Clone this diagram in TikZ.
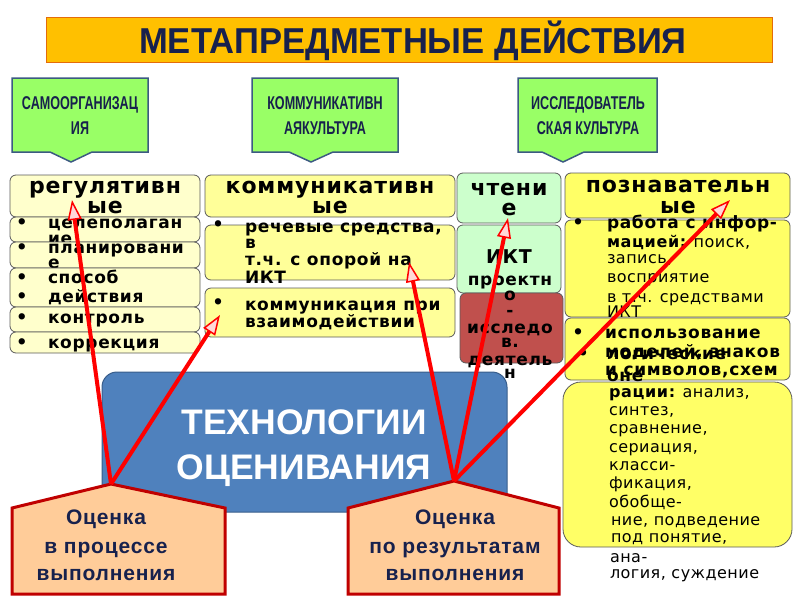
\documentclass[tikz,border=0pt]{standalone}
\usepackage{fontspec}
\setmainfont{DejaVu Sans}
\newfontfamily\hdrfamily{DejaVu Sans}[LetterSpace=4]
\newfontfamily\itemfamily{DejaVu Sans}[LetterSpace=4]
\newfontfamily\plainfamily{DejaVu Sans}[LetterSpace=3]
\newfontfamily\narrowfamily{Liberation Sans}[FakeStretch=0.68]
\newfontfamily\titlefamily{Liberation Sans}[FakeStretch=0.96]
\newfontfamily\arialfamily{Liberation Sans}
\newfontfamily\evalfamily{Liberation Sans}[LetterSpace=4]
\usetikzlibrary{arrows.meta}
\definecolor{titlefill}{HTML}{FFC000}
\definecolor{titleline}{HTML}{E46C0A}
\definecolor{navy}{HTML}{17214D}
\definecolor{greenfill}{HTML}{99FF66}
\definecolor{greenline}{HTML}{3C5A82}
\definecolor{leftfill}{HTML}{FFFFCC}
\definecolor{midfill}{HTML}{FFFF99}
\definecolor{readfill}{HTML}{CCFFCC}
\definecolor{cogfill}{HTML}{FFFF66}
\definecolor{boxline}{HTML}{5A5A5A}
\definecolor{projfill}{HTML}{C0504D}
\definecolor{bluefill}{HTML}{4F81BD}
\definecolor{blueline}{HTML}{385D8A}
\definecolor{penfill}{HTML}{FFCC99}
\definecolor{penline}{HTML}{C00000}

\begin{document}
\begin{tikzpicture}[x=1pt, y=-1pt, every node/.style={inner sep=0pt, outer sep=0pt},
      cell/.style={draw=boxline, line width=0.8pt, rounded corners=6pt, anchor=north west},
      hdrtxt/.style={anchor=base, font=\hdrfamily\fontsize{22}{24}\selectfont\bfseries},
      itemtxt/.style={anchor=base west, font=\itemfamily\fontsize{17}{18}\selectfont\bfseries},
      dot/.style={anchor=base, font=\fontsize{18}{18}\selectfont\bfseries},
      plaintxt/.style={anchor=base west, font=\plainfamily\fontsize{16}{18}\selectfont},
      greentxt/.style={anchor=base, text=navy, font=\narrowfamily\fontsize{18.5}{20}\selectfont\bfseries},
      evaltxt/.style={anchor=base, text=navy, font=\evalfamily\fontsize{21}{22}\selectfont\bfseries},
      callout/.style={fill=greenfill, draw=greenline, line width=1.5pt},
      house/.style={fill=penfill, draw=penline, line width=3pt},
      arr/.style={draw=red, line width=4pt, -{Triangle[length=20pt,width=14pt,fill=red!15,line width=1.5pt]}}]
      \useasboundingbox (0,0) rectangle (800,600);
      \node[fill=titlefill, draw=titleline, line width=1pt, anchor=north west, minimum width=726pt, minimum height=45pt] (title) at (46,17) {};
      \node[anchor=base, text=navy, font=\titlefamily\fontsize{36}{38}\selectfont\bfseries] (titleTxt) at (413,53) {МЕТАПРЕДМЕТНЫЕ ДЕЙСТВИЯ};
      \draw[callout] (12,78) -- (148,78) -- (148,152) -- (92,152) -- (71,162) -- (50,152) -- (12,152) -- cycle;
      \draw[callout] (252,78) -- (398,78) -- (398,152) -- (333,152) -- (311,162) -- (289,152) -- (252,152) -- cycle;
      \draw[callout] (518,78) -- (657,78) -- (657,152) -- (584,152) -- (563,162) -- (542,152) -- (518,152) -- cycle;
      \node[greentxt] (selfA) at (80,109) {САМООРГАНИЗАЦ};
      \node[greentxt] (selfB) at (80,134) {ИЯ};
      \node[greentxt] (talkA) at (325,109) {КОММУНИКАТИВН};
      \node[greentxt] (talkB) at (325,134) {АЯКУЛЬТУРА};
      \node[greentxt] (researchA) at (588,109) {ИССЛЕДОВАТЕЛЬ};
      \node[greentxt] (researchB) at (588,134) {СКАЯ КУЛЬТУРА};
      \node[cell, fill=leftfill, minimum width=190pt, minimum height=42pt] (regHdr) at (10,175) {};
      \node[hdrtxt] (regA) at (105,193) {регулятивн};
      \node[hdrtxt] (regB) at (105,213) {ые};
      \node[cell, fill=leftfill, minimum width=190pt, minimum height=25pt] (regOne) at (10,217) {};
      \node[dot] (regOneDot) at (22,228) {•};
      \node[itemtxt] (regOneA) at (48,228) {целеполаган};
      \node[itemtxt] (regOneB) at (48,244) {ие};
      \node[cell, fill=leftfill, minimum width=190pt, minimum height=26pt] (regTwo) at (10,242) {};
      \node[dot] (regTwoDot) at (22,253) {•};
      \node[itemtxt] (regTwoA) at (48,253) {планировани};
      \node[itemtxt] (regTwoB) at (48,268) {е};
      \node[cell, fill=leftfill, minimum width=190pt, minimum height=39pt] (regThree) at (10,268) {};
      \node[dot] (regThreeDotA) at (22,283) {•};
      \node[itemtxt] (regThreeA) at (48,283) {способ};
      \node[dot] (regThreeDotB) at (22,302) {•};
      \node[itemtxt] (regThreeB) at (48,302) {действия};
      \node[cell, fill=leftfill, minimum width=190pt, minimum height=25pt] (regFour) at (10,307) {};
      \node[dot] (regFourDot) at (22,323) {•};
      \node[itemtxt] (regFourA) at (48,323) {контроль};
      \node[cell, fill=leftfill, minimum width=190pt, minimum height=21pt] (regFive) at (10,332) {};
      \node[dot] (regFiveDot) at (22,348) {•};
      \node[itemtxt] (regFiveA) at (48,348) {коррекция};
      \node[cell, fill=midfill, minimum width=250pt, minimum height=42pt] (commHdr) at (205,175) {};
      \node[hdrtxt] (commA) at (330,193) {коммуникативн};
      \node[hdrtxt] (commB) at (330,213) {ые};
      \node[cell, fill=midfill, minimum width=250pt, minimum height=55pt] (commOne) at (205,225) {};
      \node[dot] (commOneDot) at (218,230) {•};
      \node[itemtxt] (commOneA) at (245,232) {речевые средства,};
      \node[itemtxt] (commOneB) at (245,248) {в};
      \node[itemtxt] (commOneC) at (245,265) {т.ч. с опорой на};
      \node[itemtxt] (commOneD) at (245,283) {ИКТ};
      \node[cell, fill=midfill, minimum width=250pt, minimum height=49pt] (commTwo) at (205,288) {};
      \node[dot] (commTwoDot) at (218,308) {•};
      \node[itemtxt] (commTwoA) at (245,310) {коммуникация при};
      \node[itemtxt] (commTwoB) at (245,327) {взаимодействии};
      \node[cell, fill=readfill, minimum width=104pt, minimum height=50pt] (readHdr) at (457,173) {};
      \node[hdrtxt] (readA) at (509,195) {чтени};
      \node[hdrtxt] (readB) at (509,215) {е};
      \node[cell, fill=readfill, minimum width=104pt, minimum height=68pt] (ictBox) at (457,225) {};
      \node[cell, fill=projfill, minimum width=103pt, minimum height=70pt] (projBox) at (460,293) {};
      \node[anchor=base, font=\itemfamily\fontsize{19}{20}\selectfont\bfseries] (ictA) at (509,263) {ИКТ};
      \node[itemtxt, anchor=base] (projA) at (510,285) {проектн};
      \node[itemtxt, anchor=base] (projB) at (510,300) {о};
      \node[itemtxt, anchor=base] (projC) at (510,316) {-};
      \node[itemtxt, anchor=base] (projD) at (510,333) {исследо};
      \node[itemtxt, anchor=base] (projE) at (510,347) {в.};
      \node[itemtxt, anchor=base] (projF) at (510,365) {деятель};
      \node[itemtxt, anchor=base] (projG) at (510,378) {н};
      \node[cell, fill=cogfill, minimum width=225pt, minimum height=45pt] (cogHdr) at (565,173) {};
      \node[hdrtxt] (cogA) at (678,192) {познавательн};
      \node[hdrtxt] (cogB) at (678,213) {ые};
      \node[cell, fill=cogfill, minimum width=225pt, minimum height=97pt] (cogOne) at (565,220) {};
      \node[dot] (cogOneDot) at (578,228) {•};
      \node[itemtxt] (cogOneA) at (607,228) {работа с инфор-};
      \node[plaintxt] (cogOneB) at (607,247) {{\itemfamily\bfseries мацией:} поиск,};
      \node[plaintxt] (cogOneC) at (607,263) {запись,};
      \node[plaintxt] (cogOneD) at (607,282) {восприятие};
      \node[plaintxt] (cogOneE) at (607,302) {в т.ч. средствами};
      \node[plaintxt] (cogOneF) at (607,317) {ИКТ};
      \node[cell, fill=cogfill, minimum width=225pt, minimum height=62pt] (cogTwo) at (565,318) {};
      \node[dot] (cogTwoDotA) at (578,338) {•};
      \node[itemtxt] (cogTwoA) at (605,338) {использование};
      \node[dot] (cogTwoDotB) at (583,359) {•};
      \node[itemtxt] (cogTwoB) at (607,359) {логические};
      \node[itemtxt] (cogTwoC) at (605,357) {моделей, знаков};
      \node[itemtxt] (cogTwoD) at (607,381) {оне};
      \node[itemtxt] (cogTwoE) at (605,375) {и символов,схем};
      \node[cell, fill=cogfill, rounded corners=18pt, minimum width=229pt, minimum height=165pt] (cogThree) at (563,382) {};
      \node[plaintxt] (opA) at (609,397) {{\itemfamily\bfseries рации:} анализ,};
      \node[plaintxt] (opB) at (609,415) {синтез,};
      \node[plaintxt] (opC) at (609,433) {сравнение,};
      \node[plaintxt] (opD) at (609,452) {сериация,};
      \node[plaintxt] (opE) at (609,470) {класси-};
      \node[plaintxt] (opF) at (609,488) {фикация,};
      \node[plaintxt] (opG) at (609,507) {обобще-};
      \node[plaintxt] (opH) at (611,525) {ние, подведение};
      \node[plaintxt] (opI) at (611,542) {под понятие,};
      \node[plaintxt] (opJ) at (610,562) {ана-};
      \node[plaintxt] (opK) at (610,578) {логия, суждение};
      \node[fill=bluefill, draw=blueline, line width=1pt, rounded corners=15pt, anchor=north west, minimum width=405pt, minimum height=140pt] (techBox) at (102,372) {};
      \node[anchor=base, text=white, font=\arialfamily\fontsize{35.5}{36}\selectfont\bfseries] (techA) at (304,434) {ТЕХНОЛОГИИ};
      \node[anchor=base, text=white, font=\arialfamily\fontsize{35.5}{36}\selectfont\bfseries] (techB) at (304,479) {ОЦЕНИВАНИЯ};
      \draw[house] (12,508) -- (111,484) -- (225,508) -- (225,594) -- (12,594) -- cycle;
      \draw[house] (348,508) -- (454,481) -- (559,508) -- (559,594) -- (348,594) -- cycle;
      \node[evaltxt] (procA) at (106,524) {Оценка};
      \node[evaltxt] (procB) at (106,553) {в процессе};
      \node[evaltxt] (procC) at (106,580) {выполнения};
      \node[evaltxt] (resA) at (455,524) {Оценка};
      \node[evaltxt] (resB) at (455,553) {по результатам};
      \node[evaltxt] (resC) at (455,580) {выполнения};
      \coordinate (procTop) at (111,484);
      \coordinate (resTop) at (454,481);
      \coordinate (regEnd) at (72,200);
      \coordinate (commEnd) at (220,315);
      \coordinate (ictEnd) at (409,262);
      \coordinate (readEnd) at (508,218);
      \coordinate (cogEnd) at (730,200);
      \draw[arr] (procTop) -- (regEnd);
      \draw[arr] (procTop) -- (commEnd);
      \draw[arr] (resTop) -- (ictEnd);
      \draw[arr] (resTop) -- (readEnd);
      \draw[arr] (resTop) -- (cogEnd);
\end{tikzpicture}
\end{document}
